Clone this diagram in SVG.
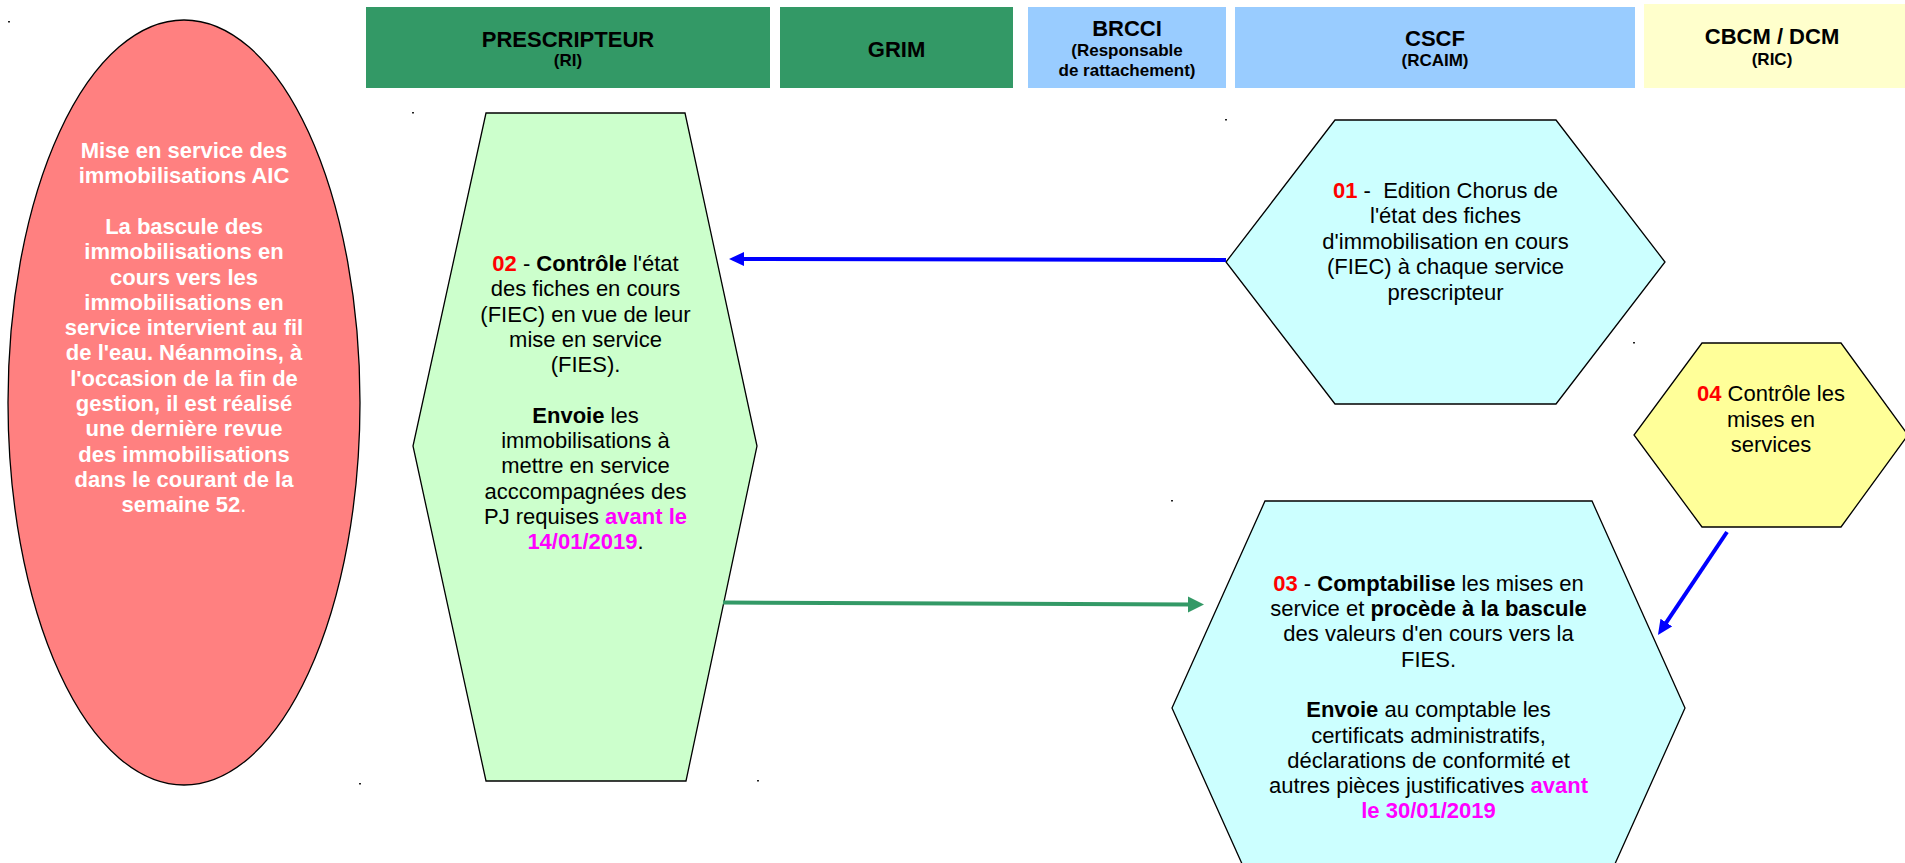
<svg xmlns="http://www.w3.org/2000/svg" width="1905" height="863" viewBox="0 0 1905 863">
  <defs>
    <style>
      text { font-family: "Liberation Sans", Arial, sans-serif; }
      .hd { font-weight: bold; font-size: 22px; fill: #000; text-anchor: middle; }
      .hs { font-weight: bold; font-size: 17px; fill: #000; text-anchor: middle; }
      .body { font-size: 22px; fill: #000; text-anchor: middle; }
      .note { font-size: 22px; font-weight: bold; fill: #fff; text-anchor: middle; }
      .b { font-weight: bold; }
      .num { font-weight: bold; fill: #ff0000; }
      .date { font-weight: bold; fill: #ff00ff; }
      .shape { stroke: #000; stroke-width: 1.3; }
      .lane-green { fill: #339966; }
      .lane-blue { fill: #99ccff; }
      .lane-yellow { fill: #ffffcc; }
      .mark { fill: #222; }
      .link { fill: none; stroke-width: 4; }
    </style>
    <marker id="head-blue" markerUnits="userSpaceOnUse" markerWidth="16" markerHeight="16" refX="2" refY="7" orient="auto">
      <path d="M0,0 L15,7 L0,14 z" fill="#0000ff"/>
    </marker>
    <marker id="head-green" markerUnits="userSpaceOnUse" markerWidth="18" markerHeight="18" refX="3" refY="8" orient="auto">
      <path d="M0,0 L16,8 L0,16 z" fill="#339966"/>
    </marker>
  </defs>

  <rect width="1905" height="863" fill="#ffffff"/>

  <!-- Swimlane headers -->
  <g id="lane-prescripteur">
    <rect class="lane-green" x="366" y="7" width="404" height="81"/>
    <text class="hd" x="568" y="46.5">PRESCRIPTEUR</text>
    <text class="hs" x="568" y="66.4">(RI)</text>
  </g>
  <g id="lane-grim">
    <rect class="lane-green" x="780" y="7" width="233" height="81"/>
    <text class="hd" x="896.5" y="56.5">GRIM</text>
  </g>
  <g id="lane-brcci">
    <rect class="lane-blue" x="1028" y="7" width="198" height="81"/>
    <text class="hd" x="1127" y="36">BRCCI</text>
    <text class="hs" x="1127" y="56.4">(Responsable</text>
    <text class="hs" x="1127" y="76.4">de rattachement)</text>
  </g>
  <g id="lane-cscf">
    <rect class="lane-blue" x="1235" y="7" width="400" height="81"/>
    <text class="hd" x="1435" y="45.7">CSCF</text>
    <text class="hs" x="1435" y="66.4">(RCAIM)</text>
  </g>
  <g id="lane-cbcm">
    <rect class="lane-yellow" x="1644" y="4" width="261" height="84"/>
    <text class="hd" x="1772" y="44.3">CBCM / DCM</text>
    <text class="hs" x="1772" y="64.7">(RIC)</text>
  </g>

  <!-- Context note -->
  <g id="note-aic">
    <ellipse class="shape" cx="184" cy="402.5" rx="176" ry="382.5" fill="#ff8080" stroke-width="1.2"/>
    <text class="note" x="184" y="158">Mise en service des</text>
    <text class="note" x="184" y="183.3">immobilisations AIC</text>
    <text class="note" x="184" y="233.9">La bascule des</text>
    <text class="note" x="184" y="259.2">immobilisations en</text>
    <text class="note" x="184" y="284.5">cours vers les</text>
    <text class="note" x="184" y="309.8">immobilisations en</text>
    <text class="note" x="184" y="335.1">service intervient au fil</text>
    <text class="note" x="184" y="360.4">de l'eau. Néanmoins, à</text>
    <text class="note" x="184" y="385.7">l'occasion de la fin de</text>
    <text class="note" x="184" y="411">gestion, il est réalisé</text>
    <text class="note" x="184" y="436.3">une dernière revue</text>
    <text class="note" x="184" y="461.6">des immobilisations</text>
    <text class="note" x="184" y="486.9">dans le courant de la</text>
    <text class="note" x="184" y="512.2">semaine 52<tspan font-weight="normal">.</tspan></text>
  </g>

  <!-- Step 01 -->
  <g id="step-01">
    <polygon class="shape" points="1335,120 1556,120 1665,262 1556,404 1335,404 1226,262" fill="#ccffff"/>
    <text class="body" x="1445.5" y="198" xml:space="preserve"><tspan class="num">01</tspan> -  Edition Chorus de</text>
    <text class="body" x="1445.5" y="223.4">l'état des fiches</text>
    <text class="body" x="1445.5" y="248.8">d'immobilisation en cours</text>
    <text class="body" x="1445.5" y="274.2">(FIEC) à chaque service</text>
    <text class="body" x="1445.5" y="299.6">prescripteur</text>
  </g>

  <!-- Step 02 -->
  <g id="step-02">
    <polygon class="shape" points="486,113 685,113 757,446 686,781 486,781 413,446" fill="#ccffcc"/>
    <text class="body" x="585.5" y="271" xml:space="preserve"><tspan class="num">02</tspan> - <tspan class="b">Contrôle</tspan> l'état</text>
    <text class="body" x="585.5" y="296.3">des fiches en cours</text>
    <text class="body" x="585.5" y="321.6">(FIEC) en vue de leur</text>
    <text class="body" x="585.5" y="346.9">mise en service</text>
    <text class="body" x="585.5" y="372.2">(FIES).</text>
    <text class="body" x="585.5" y="422.8" xml:space="preserve"><tspan class="b">Envoie</tspan> les</text>
    <text class="body" x="585.5" y="448.1">immobilisations à</text>
    <text class="body" x="585.5" y="473.4">mettre en service</text>
    <text class="body" x="585.5" y="498.7">acccompagnées des</text>
    <text class="body" x="585.5" y="524" xml:space="preserve">PJ requises <tspan class="date">avant le</tspan></text>
    <text class="body" x="585.5" y="549.3"><tspan class="date">14/01/2019</tspan>.</text>
  </g>

  <!-- Step 03 -->
  <g id="step-03">
    <polygon class="shape" points="1265,501 1592,501 1685,708 1592,915 1265,915 1172,708" fill="#ccffff"/>
    <text class="body" x="1428.5" y="590.7" xml:space="preserve"><tspan class="num">03</tspan> - <tspan class="b">Comptabilise</tspan> les mises en</text>
    <text class="body" x="1428.5" y="616" xml:space="preserve">service et <tspan class="b">procède à la bascule</tspan></text>
    <text class="body" x="1428.5" y="641.3">des valeurs d'en cours vers la</text>
    <text class="body" x="1428.5" y="666.6">FIES.</text>
    <text class="body" x="1428.5" y="717.2" xml:space="preserve"><tspan class="b">Envoie</tspan> au comptable les</text>
    <text class="body" x="1428.5" y="742.5">certificats administratifs,</text>
    <text class="body" x="1428.5" y="767.8">déclarations de conformité et</text>
    <text class="body" x="1428.5" y="793.1" xml:space="preserve">autres pièces justificatives <tspan class="date">avant</tspan></text>
    <text class="body" x="1428.5" y="818.4"><tspan class="date">le 30/01/2019</tspan></text>
  </g>

  <!-- Step 04 -->
  <g id="step-04">
    <polygon class="shape" points="1702,343 1841,343 1908,435 1841,527 1702,527 1634,435" fill="#ffff99"/>
    <text class="body" x="1771" y="401" xml:space="preserve"><tspan class="num">04</tspan> Contrôle les</text>
    <text class="body" x="1771" y="426.5">mises en</text>
    <text class="body" x="1771" y="452">services</text>
  </g>

  <!-- Flows between steps -->
  <g id="connectors">
    <path class="link" d="M1226,260 L742,259" stroke="#0000ff" marker-end="url(#head-blue)"/>
    <path class="link" d="M723,602.5 L1191,604.5" stroke="#339966" marker-end="url(#head-green)"/>
    <path class="link" d="M1727,532 L1665.2,624.2" stroke="#0000ff" marker-end="url(#head-blue)"/>
  </g>

  <!-- Small anchor marks left by the drawing tool -->
  <g id="marks">
    <rect class="mark" x="8" y="21" width="2" height="1.5"/>
    <rect class="mark" x="359" y="783" width="2" height="1.5"/>
    <rect class="mark" x="412" y="112" width="2" height="1.5"/>
    <rect class="mark" x="757" y="780" width="2" height="1.5"/>
    <rect class="mark" x="1225" y="119" width="2" height="1.5"/>
    <rect class="mark" x="1633" y="342" width="2" height="1.5"/>
    <rect class="mark" x="1171" y="500" width="2" height="1.5"/>
  </g>
</svg>
